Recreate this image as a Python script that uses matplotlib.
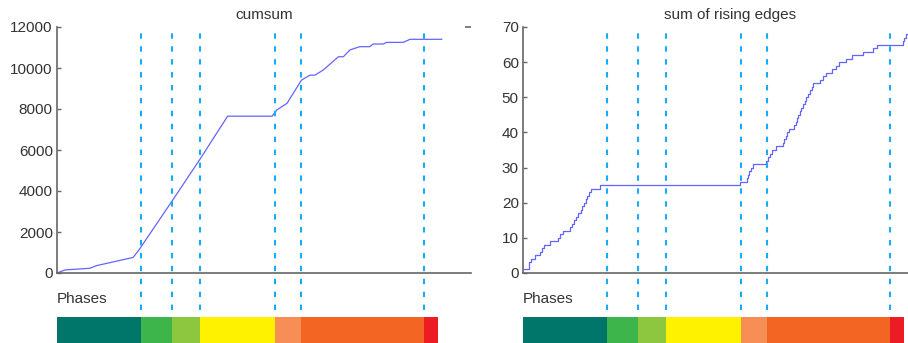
import matplotlib
matplotlib.use('Agg')
import matplotlib.pyplot as plt

# -------------------------------------------
# data (time in frames)
cum_t = [0, 21, 86, 104, 200, 218, 301, 375, 448, 565, 577, 604, 642, 664, 677,
         699, 739, 752, 769, 795, 821, 830, 857, 865, 909, 927, 1010]
cum_y = [0, 150, 230, 360, 760, 1200, 3480, 5540, 7650, 7650, 7950, 8280, 9410,
         9650, 9650, 9900, 10550, 10550, 10880, 11040, 11040, 11170, 11170,
         11250, 11250, 11400, 11400]

# times of rising edges and the running count after each one
edge_t = [0, 16.6, 21, 32.4, 43.8, 50, 56, 71.8, 91, 98, 105, 122.5, 128.6, 134.8,
          140, 143.5, 152, 155.8, 161, 164.5, 168, 173, 179, 203, 570.5, 588,
          591.5, 593, 598.5, 603.8, 638.8, 642, 647.5, 654.5, 663, 682.5, 686,
          689.5, 693, 698, 712, 715.8, 719, 722.8, 726, 729.8, 735, 740, 743.8,
          749, 754, 757.8, 761, 778.8, 787.5, 796, 811, 820.8, 829.5, 847, 864.5,
          892.5, 918.8, 929, 996.6, 1001, 1006, 1011.5]
edge_n = [1, 3, 4, 5, 6, 7, 8, 9, 10, 11, 12, 13, 14, 15, 16, 17, 18, 19, 20, 21,
          22, 23, 24, 25, 26, 27, 28, 29, 30, 31, 32, 33, 34, 35, 36, 37, 38, 39,
          40, 41, 42, 43, 44, 45, 46, 47, 48, 49, 50, 51, 52, 53, 54, 55, 56, 57,
          58, 59, 60, 61, 62, 63, 64, 65, 66, 67, 68, 68]

# phase boundaries and colours
phase_edges = [0, 220.5, 302, 375, 572, 640, 963, 1000]
phase_colors = ['#00756a', '#3db54a', '#8dc63f', '#fff200', '#f68e56',
                '#f26522', '#ed1c24']

titles = ['cumsum', 'sum of rising edges']
yticks = [list(range(0, 12001, 2000)), list(range(0, 71, 10))]
ylims = [(0, 12000), (0, 70)]

# -------------------------------------------
plt.rcParams['font.family'] = ['Liberation Sans', 'DejaVu Sans']
plt.rcParams['font.size'] = 11
plt.rcParams['text.color'] = '#333333'

W, H = 908, 343
fig = plt.figure(figsize=(W / 100, H / 100), dpi=100)

line_col = '#6464ff'
dash_col = '#19aaf8'
spine_col = '#666666'
xmax = 1087

lefts = [57, 523]
for i, left in enumerate(lefts):
    ax = fig.add_axes([left / W, 70 / H, 414 / W, 246 / H])
    if i == 0:
        ax.plot(cum_t, cum_y, color=line_col, lw=0.9)
    else:
        ax.step(edge_t, edge_n, where='post', color=line_col, lw=0.9)
    ax.set_xlim(0, xmax)
    ax.set_ylim(*ylims[i])
    ax.set_yticks(yticks[i])
    ax.set_xticks([])
    for s in ['top', 'right']:
        ax.spines[s].set_visible(False)
    for s in ['left', 'bottom']:
        ax.spines[s].set_color(spine_col)
        ax.spines[s].set_linewidth(1.2)
    ax.tick_params(axis='y', direction='in', length=3, width=1.0,
                   color=spine_col, pad=3, labelsize=11, labelcolor='#333333')
    ax.set_title(titles[i], fontsize=11, pad=6, color='#333333')
    if i == 0:
        sec = ax.secondary_yaxis('right')
        sec.set_yticks([ylims[i][1]])
        sec.set_yticklabels([])
        sec.spines['right'].set_visible(False)
        sec.tick_params(direction='in', length=4, width=1.2, color=spine_col)

    # dashed phase markers, running down into the phase strip
    for t in phase_edges[1:-1]:
        ax.axvline(t, ymin=-0.15, ymax=0.975, clip_on=False, color=dash_col,
                   lw=1.5, linestyle=(0, (2.6, 3.6)))

    fig.text(left / W, 44 / H, 'Phases', ha='left', va='center', fontsize=11,
             color='#333333')

    # phase colour strip
    pax = fig.add_axes([left / W, 0, 414 / W, 26 / H])
    for k in range(len(phase_colors)):
        pax.barh(0.5, phase_edges[k + 1] - phase_edges[k], left=phase_edges[k],
                 height=1, color=phase_colors[k], linewidth=0)
    pax.set_xlim(0, xmax)
    pax.set_ylim(0, 1)
    pax.axis('off')

fig.savefig('out.png', dpi=100)
